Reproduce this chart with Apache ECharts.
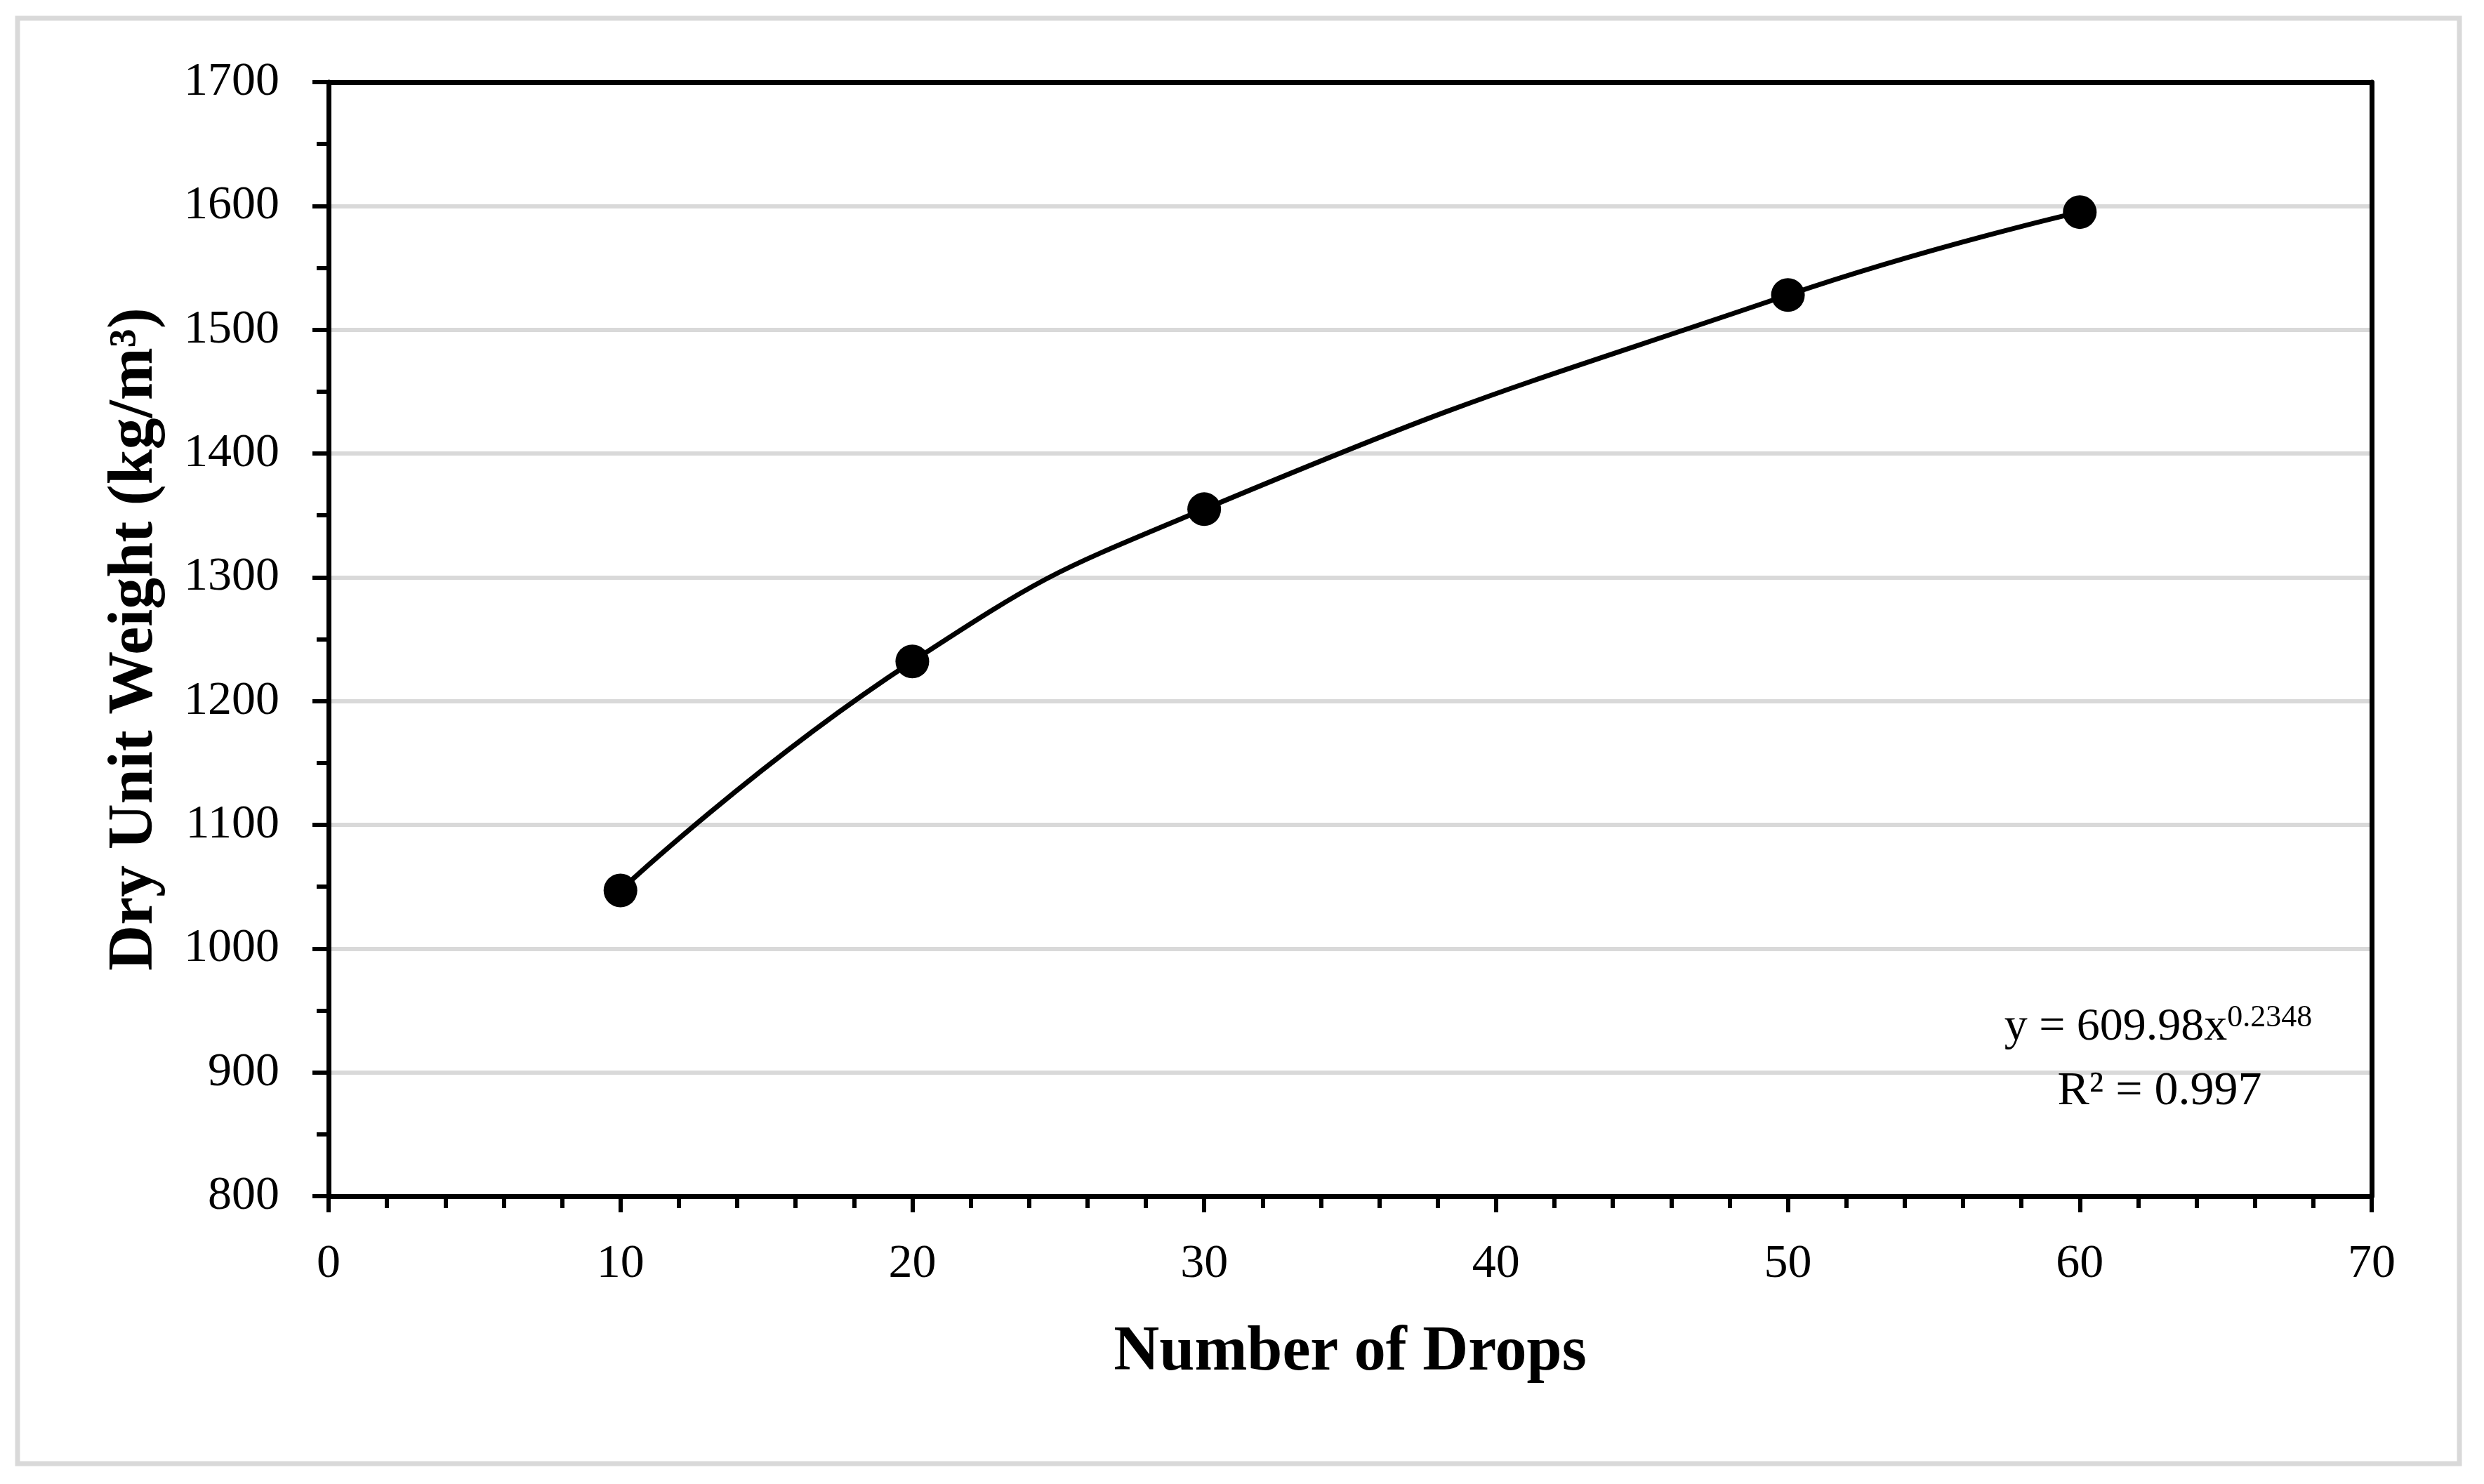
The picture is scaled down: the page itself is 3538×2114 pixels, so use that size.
<!DOCTYPE html>
<html>
<head>
<meta charset="utf-8">
<script src="https://cdn.jsdelivr.net/npm/echarts/dist/echarts.min.js"></script>
<style>
html,body{margin:0;padding:0;background:#fff;}
#chart{width:3538px;height:2114px;}
</style>
</head>
<body>
<div id="chart"></div>
<script>
// ---- data ----
const drops = [10, 20, 30, 50, 60];
const dryUnitWeight = [1047, 1232, 1355, 1528, 1595];
const xAxisRange = [0, 70];
const xAxisStep = 10;
const yAxisRange = [800, 1700];
const yAxisStep = 100;
const xTitle = 'Number of Drops';
const yTitle = 'Dry Unit Weight (kg/m³)';
const equationMain = 'y = 609.98x';
const equationExponent = '0.2348';
const rSquaredText = 'R² = 0.997';

const FONT = '"Liberation Serif", "Times New Roman", serif';
const points = drops.map((d, i) => [d, dryUnitWeight[i]]);

const chart = echarts.init(document.getElementById('chart'), null, {renderer: 'canvas'});

const option = {
  backgroundColor: '#ffffff',
  animation: false,
  grid: {left: 468, right: 160, top: 117, bottom: 410, containLabel: false, outerBoundsMode: 'none'},
  xAxis: [{
    type: 'value',
    min: xAxisRange[0], max: xAxisRange[1], interval: xAxisStep,
    position: 'bottom',
    axisLine: {show: true, onZero: false, lineStyle: {color: '#000', width: 7}},
    axisTick: {show: true, inside: false, length: 23, lineStyle: {color: '#000', width: 6}},
    minorTick: {show: true, splitNumber: 5, length: 17, lineStyle: {color: '#000', width: 6}},
    splitLine: {show: false},
    axisLabel: {show: true, margin: 63, fontSize: 68, color: '#000', fontFamily: FONT, showMaxLabel: true, showMinLabel: true,
      formatter: v => String(v)},
    name: xTitle,
    nameLocation: 'middle',
    nameGap: 179,
    nameTextStyle: {fontSize: 90, fontWeight: 'bold', color: '#000', fontFamily: FONT}
  }, {
    type: 'value',
    min: xAxisRange[0], max: xAxisRange[1], interval: xAxisStep,
    position: 'top',
    axisLine: {show: true, onZero: false, lineStyle: {color: '#000', width: 7}},
    axisTick: {show: false}, axisLabel: {show: false}, splitLine: {show: false}
  }],
  yAxis: [{
    type: 'value',
    min: yAxisRange[0], max: yAxisRange[1], interval: yAxisStep,
    position: 'left',
    axisLine: {show: true, onZero: false, lineStyle: {color: '#000', width: 7}},
    axisTick: {show: true, inside: false, length: 23, lineStyle: {color: '#000', width: 6}},
    minorTick: {show: true, splitNumber: 2, length: 17, lineStyle: {color: '#000', width: 6}},
    splitLine: {show: true, lineStyle: {color: '#d9d9d9', width: 6}},
    axisLabel: {show: true, margin: 70, fontSize: 68, color: '#000', fontFamily: FONT, showMaxLabel: true, showMinLabel: true,
      formatter: v => String(v)},
    name: yTitle,
    nameLocation: 'middle',
    nameGap: 230,
    nameRotate: 90,
    nameTextStyle: {fontSize: 90, fontWeight: 'bold', color: '#000', fontFamily: FONT}
  }, {
    type: 'value',
    min: yAxisRange[0], max: yAxisRange[1], interval: yAxisStep,
    position: 'right',
    axisLine: {show: true, onZero: false, lineStyle: {color: '#000', width: 7}},
    axisTick: {show: false}, axisLabel: {show: false}, splitLine: {show: false}
  }],
  series: [{
    type: 'line',
    xAxisIndex: 0, yAxisIndex: 0,
    data: points,
    smooth: 0.5,
    symbol: 'circle',
    symbolSize: 48,
    itemStyle: {color: '#000', borderWidth: 0},
    lineStyle: {color: '#000', width: 7},
    z: 5
  }],
  graphic: [
    {
      type: 'rect',
      shape: {x: 25, y: 26, width: 3478, height: 2059},
      style: {fill: 'none', stroke: '#d9d9d9', lineWidth: 7},
      silent: true, z: -10
    },
    {
      type: 'text',
      x: 3074, y: 1428,
      style: {
        text: '{a|' + equationMain + '}{b|' + equationExponent + '}',
        align: 'center', verticalAlign: 'top',
        textAlign: 'center', textVerticalAlign: 'top',
        rich: {
          a: {fontSize: 66, lineHeight: 72, fontFamily: FONT, fill: '#000', color: '#000'},
          b: {fontSize: 44, lineHeight: 44, fontFamily: FONT, verticalAlign: 'top', fill: '#000', color: '#000'}
        }
      },
      z: 20
    },
    {
      type: 'text',
      x: 3076, y: 1555,
      style: {
        text: rSquaredText,
        font: '68px ' + FONT,
        fill: '#000',
        align: 'center', verticalAlign: 'middle',
        textAlign: 'center', textVerticalAlign: 'middle'
      },
      z: 20
    }
  ]
};
chart.setOption(option);
</script>
</body>
</html>
